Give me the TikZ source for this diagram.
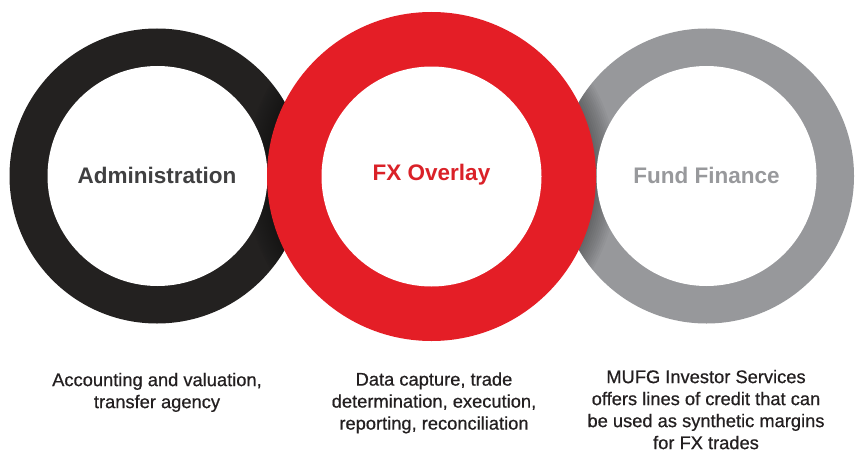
\documentclass[tikz,border=0pt]{standalone}
\usepackage{fontspec}
\setmainfont{Liberation Sans}
\newfontfamily\descfont[FakeBold=0.6]{Liberation Sans}
\definecolor{ringblack}{HTML}{232120}
\definecolor{ringred}{HTML}{E41E26}
\definecolor{ringgrey}{HTML}{97989B}
\definecolor{admintext}{HTML}{404041}
\definecolor{fxtext}{HTML}{DA2128}
\definecolor{fundtext}{HTML}{98999C}
\definecolor{bodytext}{HTML}{231F20}
\begin{document}
\begin{tikzpicture}[x=1pt,y=-1pt,
  disc/.style={circle, inner sep=0pt, outer sep=0pt, draw=none},
  title/.style={font=\bfseries\fontsize{22.5}{26}\selectfont, inner sep=0pt},
  desc/.style={font=\descfont\fontsize{18.3}{22}\selectfont, text=bodytext, align=center, anchor=north, inner sep=0pt}
]
\useasboundingbox (0,0) rectangle (856,452);
\fill[white] (0,0) rectangle (856,452);
% outer discs of the side rings
\node[disc, fill=ringblack, minimum size=295pt] (adminouter) at (157,176) {};
\node[disc, fill=ringgrey, minimum size=295pt] (fundouter) at (706.5,176) {};
% soft shadow of the red ring on the side rings
\begin{scope}
  \clip (706.5,176) circle[radius=147.5];
  \foreach \r in {166,168,...,186}
    \fill[black, opacity=0.03] (431.5,176.5) circle[radius=\r];
\end{scope}
\begin{scope}
  \clip (157,176) circle[radius=147.5];
  \foreach \r in {166,168,...,186}
    \fill[black, opacity=0.03] (431.5,176.5) circle[radius=\r];
\end{scope}
% inner white discs
\node[disc, fill=white, minimum size=220pt] (admininner) at (157.5,176) {};
\node[disc, fill=white, minimum size=220pt] (fundinner) at (706.5,176) {};
% red ring on top
\node[disc, fill=ringred, minimum size=329pt] (fxouter) at (431.5,176.5) {};
\node[disc, fill=white, minimum size=220pt] (fxinner) at (431.5,176.5) {};
% titles
\node[title, text=admintext] (admintitle) at (157,175) {Administration};
\node[title, text=fxtext] (fxtitle) at (431.5,175) {FX Overlay};
\node[title, text=fundtext] (fundtitle) at (706.5,175) {Fund Finance};
% descriptions
\node[desc] (admindesc) at (157,370.5) {\strut Accounting and valuation,\\transfer agency};
\node[desc] (fxdesc) at (434,370) {\strut Data capture, trade\\determination, execution,\\reporting, reconciliation};
\node[desc] (funddesc) at (706,367.5) {\strut MUFG Investor Services\\offers lines of credit that can\\be used as synthetic margins\\for FX trades};
\end{tikzpicture}
\end{document}
